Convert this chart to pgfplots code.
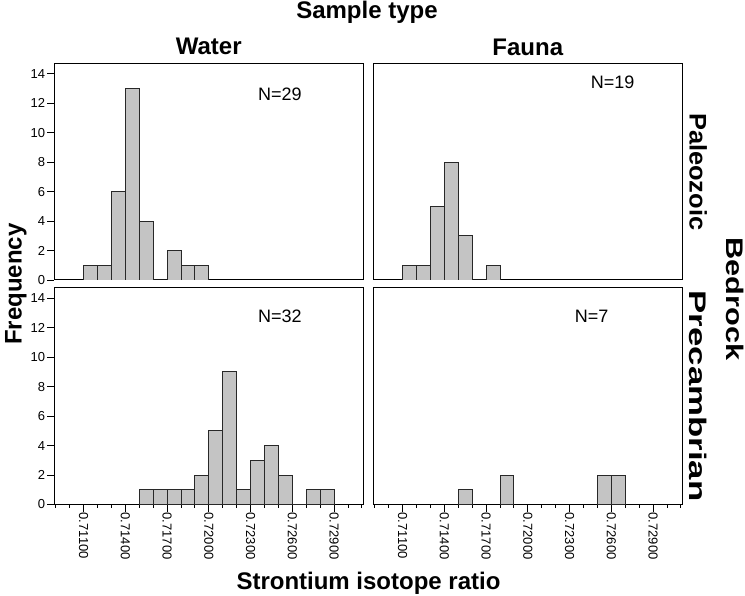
\documentclass[border=0pt]{standalone}
\usepackage{fontspec}
\setmainfont{Liberation Sans}
\usepackage{pgfplots}
\pgfplotsset{compat=1.18}
\definecolor{barfill}{RGB}{196,196,196}
\definecolor{bardraw}{RGB}{40,40,40}
\pgfplotsset{
  panel/.style={
    scale only axis, width=309pt, height=216.5pt,
    xmin=0.7089, xmax=0.7311, ymin=0, ymax=14.7,
    axis line style={line width=1pt, black},
    tick style={line width=0.9pt, black},
    tick align=outside,
    major tick length=7pt, minor tick length=3.5pt,
    xtick pos=left, ytick pos=left,
    /pgf/number format/assume math mode=true,
    ticklabel style={font=\fontsize{13}{15}\selectfont},
    xtick=\empty, ytick=\empty,
  },
  leftp/.style={ytick={0,2,4,6,8,10,12,14}, yticklabel style={inner sep=2pt}},
  bottomp/.style={
    xtick={0.711,0.714,0.717,0.720,0.723,0.726,0.729},
    xticklabels={0.71100,0.71400,0.71700,0.72000,0.72300,0.72600,0.72900},
    minor xtick={0.709,0.710,0.712,0.713,0.715,0.716,0.718,0.719,0.721,0.722,0.724,0.725,0.727,0.728,0.730,0.731},
    xticklabel style={rotate=-90, anchor=west, inner sep=1pt},
  },
  hist/.style={ybar interval, fill=barfill, draw=bardraw, line width=0.9pt},
}
\newcommand{\nlab}{\fontsize{18}{21}\selectfont}
\newcommand{\biglab}{\fontsize{24}{27}\selectfont\bfseries}
\begin{document}
\begin{tikzpicture}
\path[use as bounding box] (0,0) rectangle (745pt,-596pt);
% Water, Paleozoic
\begin{axis}[panel, leftp, at={(54.3pt,-63.5pt)}, anchor=north west]
\addplot[hist] coordinates {(0.711,1) (0.712,1) (0.713,6) (0.714,13) (0.715,4) (0.716,0) (0.717,2) (0.718,1) (0.719,1) (0.720,0)};
\node[font=\nlab] at (axis cs:0.7251,12.6) {N=29};
\end{axis}
% Fauna, Paleozoic
\begin{axis}[panel, at={(373.3pt,-63.5pt)}, anchor=north west]
\addplot[hist] coordinates {(0.711,1) (0.712,1) (0.713,5) (0.714,8) (0.715,3) (0.716,0) (0.717,1) (0.718,0)};
\node[font=\nlab] at (axis cs:0.7261,13.4) {N=19};
\end{axis}
% Water, Precambrian
\begin{axis}[panel, leftp, bottomp, at={(54.3pt,-288pt)}, anchor=north west]
\addplot[hist] coordinates {(0.715,1) (0.716,1) (0.717,1) (0.718,1) (0.719,2) (0.720,5) (0.721,9) (0.722,1) (0.723,3) (0.724,4) (0.725,2) (0.726,0) (0.727,1) (0.728,1) (0.729,0)};
\node[font=\nlab] at (axis cs:0.7251,12.75) {N=32};
\end{axis}
% Fauna, Precambrian
\begin{axis}[panel, bottomp, at={(373.3pt,-288pt)}, anchor=north west]
\addplot[hist] coordinates {(0.715,1) (0.716,0)};
\addplot[hist] coordinates {(0.718,2) (0.719,0)};
\addplot[hist] coordinates {(0.725,2) (0.726,2) (0.727,0)};
\node[font=\nlab] at (axis cs:0.72458,12.75) {N=7};
\end{axis}
% outer labels
\node[font=\biglab, anchor=base] at (367pt,-19pt) {Sample type};
\node[font=\biglab, anchor=base] at (208.7pt,-55pt) {Water};
\node[font=\biglab, anchor=base] at (527.8pt,-55.5pt) {Fauna};
\node[font=\biglab, anchor=base] at (368.5pt,-589pt) {Strontium isotope ratio};
\node[font=\biglab, anchor=base, rotate=90] at (21.5pt,-284pt) {Frequency};
\node[font=\biglab, anchor=base, rotate=-90] at (689.5pt,-171.75pt) {\scalebox{1.06}[1]{Paleozoic}};
\node[font=\biglab, anchor=base, rotate=-90] at (689.5pt,-396pt) {\scalebox{1.45}[1]{Precambrian}};
\node[font=\biglab, anchor=base, rotate=-90] at (726pt,-299pt) {\scalebox{1.28}[1]{Bedrock}};
\end{tikzpicture}
\end{document}
